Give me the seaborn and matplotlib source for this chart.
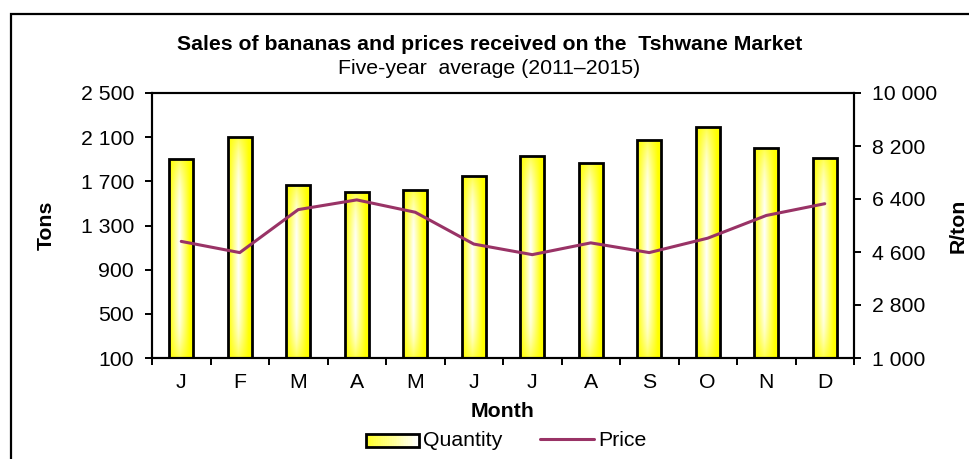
import numpy as np
import pandas as pd
import matplotlib
matplotlib.use("Agg")
import matplotlib.pyplot as plt
import seaborn as sns
from matplotlib.patches import Rectangle, Patch
from matplotlib.lines import Line2D
from matplotlib.ticker import FuncFormatter, FixedLocator

months = ["Jan", "Feb", "Mar", "Apr", "May", "Jun",
          "Jul", "Aug", "Sep", "Oct", "Nov", "Dec"]
month_labels = ["J", "F", "M", "A", "M", "J", "J", "A", "S", "O", "N", "D"]
quantity = [1900, 2100, 1670, 1600, 1620, 1745, 1925, 1865, 2075, 2190, 2000, 1915]
price = [4960, 4580, 6040, 6370, 5950, 4870, 4510, 4910, 4580, 5070, 5840, 6240]
tons_ticks = [100, 500, 900, 1300, 1700, 2100, 2500]
price_ticks = [1000, 2800, 4600, 6400, 8200, 10000]

df = pd.DataFrame({"Month": months, "Quantity": quantity, "Price": price})

sns.set_style("white")
plt.rcParams["font.family"] = ["Liberation Sans", "DejaVu Sans"]
plt.rcParams.update({"text.color": "black", "axes.labelcolor": "black",
                     "xtick.color": "black", "ytick.color": "black"})
fs = 15.3
line_col = "#993366"


class GradientHandler:
    # legend key: yellow -> white strips with a black outline
    def legend_artist(self, legend, orig_handle, fontsize, handlebox):
        x0, y0 = handlebox.xdescent, handlebox.ydescent
        w, h = handlebox.width, handlebox.height
        n = 30
        for i in range(n):
            t = i / (n - 1)
            c = (1, 1, 0.15 + 0.85 * t)
            handlebox.add_artist(Rectangle((x0 + w * i / n, y0), w / n + 0.3, h,
                                           facecolor=c, edgecolor="none",
                                           transform=handlebox.get_transform()))
        box = Rectangle((x0, y0), w, h, facecolor="none", edgecolor="black",
                        linewidth=2, transform=handlebox.get_transform())
        handlebox.add_artist(box)
        return box


fig = plt.figure(figsize=(9.69, 4.59), dpi=100)
ax = fig.add_axes([152 / 969, (459 - 358) / 459, (854 - 152) / 969, (358 - 93) / 459])

sns.barplot(data=df, x="Month", y="Quantity", ax=ax, width=0.41,
            facecolor="none", edgecolor="black", linewidth=2, zorder=3)

ymin = tons_ticks[0]
# gradient fill inside each bar (yellow edges, white centre)
u = np.linspace(-1, 1, 64)
v = np.linspace(-1, 1, 128)
U, V = np.meshgrid(u, v)
white = np.clip((1 - np.abs(U + 0.12) / 0.88), 0, 1) ** 1.0 * (1 - np.abs(V) ** 4 * 0.7)
img = np.dstack([np.ones_like(white), np.ones_like(white), white])
for p in ax.patches:
    x0, w, h = p.get_x(), p.get_width(), p.get_height()
    im = ax.imshow(img, extent=[x0, x0 + w, ymin, h], aspect="auto",
                   origin="lower", zorder=2, interpolation="bilinear")
    im.set_clip_path(p)

ax.set_xlim(-0.5, 11.5)
ax.set_ylim(ymin, 2500)
ax.set_yticks(tons_ticks)
fmt = FuncFormatter(lambda val, pos: f"{val:,.0f}".replace(",", " "))
ax.yaxis.set_major_formatter(fmt)
ax.set_xticks(range(12))
ax.set_xticklabels(month_labels)
ax.xaxis.set_minor_locator(FixedLocator(np.arange(-0.5, 12, 1)))
ax.tick_params(axis="x", which="major", length=0, labelsize=fs, pad=11)
ax.tick_params(axis="x", which="minor", length=5, width=1.4, direction="out", bottom=True)
ax.tick_params(axis="y", length=5, width=1.4, direction="out", left=True, labelsize=fs, pad=8)
ax.set_xlabel("Month", fontsize=fs, fontweight="bold", labelpad=7)
ax.set_ylabel("Tons", fontsize=fs, fontweight="bold", labelpad=18)

ax2 = ax.twinx()
sns.lineplot(x=np.arange(12), y=price, ax=ax2, color=line_col, linewidth=2.2, zorder=4)
ax2.set_ylim(1000, 10000)
ax2.set_yticks(price_ticks)
ax2.yaxis.set_major_formatter(fmt)
ax2.tick_params(axis="y", length=5, width=1.4, direction="out", right=True, labelsize=fs, pad=8)
ax2.set_ylabel("R/ton", fontsize=fs, fontweight="bold", labelpad=8)
ax.set_xlim(-0.5, 11.5)

for a in (ax, ax2):
    for s in a.spines.values():
        s.set_color("black")
        s.set_linewidth(1.5)

fig.text(0.505, 1 - 45 / 459, "Sales of bananas and prices received on the  Tshwane Market",
         ha="center", va="center", fontsize=fs, fontweight="bold")
fig.text(0.505, 1 - 68 / 459, "Five-year  average (2011\u20132015)",
         ha="center", va="center", fontsize=fs)

handles = [Patch(facecolor="#ffff88", edgecolor="black", linewidth=2),
           Line2D([0], [0], color=line_col, linewidth=2.2)]
fig.legend(handles, ["Quantity", "Price"], loc="center", bbox_to_anchor=(0.522, 19 / 459),
           ncol=2, frameon=False, fontsize=fs, handlelength=2.5, handleheight=0.55,
           handletextpad=0.2, columnspacing=1.8,
           handler_map={Patch: GradientHandler()})

fig.add_artist(Rectangle((11 / 969, -0.1), 1.2, (459 - 13.5) / 459 + 0.1,
                         transform=fig.transFigure, fill=False, edgecolor="black",
                         linewidth=1.6))

fig.savefig("out.png", dpi=100)
